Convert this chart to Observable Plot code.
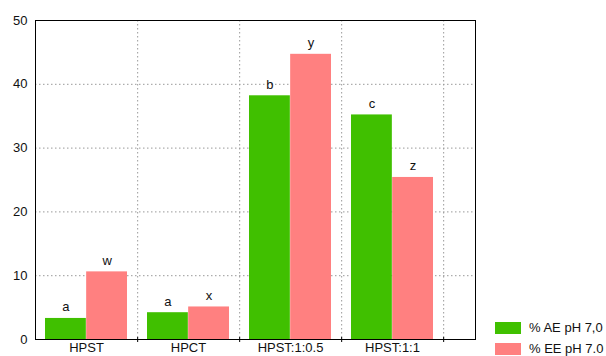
<!DOCTYPE html>
<html>
<head>
<meta charset="utf-8">
<script src="https://cdn.jsdelivr.net/npm/d3@7"></script>
<script src="https://cdn.jsdelivr.net/npm/@observablehq/plot@0.6"></script>
<style>
  body { margin: 0; background: #fff; font-family: "Liberation Sans", Arial, sans-serif; }
  #wrap { position: relative; width: 606px; height: 356px; overflow: hidden; }
  #legend { position: absolute; left: 495px; top: 317px; font-size: 13px; color: #111; white-space: nowrap; }
  #legend .item { display: flex; align-items: center; height: 21px; }
  #legend .sw { width: 26px; height: 12px; margin-right: 8px; }
</style>
</head>
<body>
<div id="wrap"></div>
<script>
// Sample groups on the x axis
const categories = ["HPST", "HPCT", "HPST:1:0.5", "HPST:1:1"];
// % AE at pH 7,0 and % EE at pH 7.0 per sample
const aeValues = [3.3, 4.2, 38.2, 35.2];
const eeValues = [10.6, 5.1, 44.7, 25.4];
// Significance letters above each bar
const aeLetters = ["a", "a", "b", "c"];
const eeLetters = ["w", "x", "y", "z"];
const seriesNames = ["% AE pH 7,0", "% EE pH 7.0"];
const colors = ["#40c000", "#ff8080"];
const yTicks = [0, 10, 20, 30, 40, 50];

const ae = categories.map((c, i) => ({cat: c, value: aeValues[i], letter: aeLetters[i]}));
const ee = categories.map((c, i) => ({cat: c, value: eeValues[i], letter: eeLetters[i]}));

const width = 606, height = 356;
const marginLeft = 35, marginRight = 131, marginTop = 20, marginBottom = 17;
const paddingOuter = 0.15;
const step = (width - marginLeft - marginRight) / (categories.length + 2 * paddingOuter);
const half = step / 2;
const gap = 10; // white space between a group and its band edge
const labelShift = (half - gap) / 2; // from band centre to each bar's centre

const dotted = {stroke: "#999", strokeOpacity: 1, strokeDasharray: "1.5,2.5"};

const chart = Plot.plot({
  width, height, marginLeft, marginRight, marginTop, marginBottom,
  style: {fontFamily: "Liberation Sans, Arial, sans-serif", fontSize: "13px", color: "#111"},
  x: {domain: categories, paddingInner: 0, paddingOuter, align: 0, label: null},
  y: {domain: [0, 50], label: null},
  marks: [
    Plot.gridY(yTicks.slice(1, -1), dotted),
    Plot.ruleX(categories, {x: d => d, dx: half, ...dotted}),
    Plot.barY(ae, {x: "cat", y: "value", fill: colors[0], insetLeft: gap, insetRight: half}),
    Plot.barY(ee, {x: "cat", y: "value", fill: colors[1], insetLeft: half, insetRight: gap}),
    Plot.frame({stroke: "#000"}),
    // small tick marks where the band boundaries meet the bottom axis
    Plot.ruleX(categories, {x: d => d, dx: half, y1: 0, y2: 0, insetTop: -2, insetBottom: -3, stroke: "#000"}),
    Plot.axisY({ticks: yTicks, tickSize: 0, tickPadding: 8, fontSize: 13, label: null}),
    Plot.axisX({tickSize: 0, tickPadding: 3, fontSize: 13, label: null, style: {letterSpacing: "0.5px"}}),
    Plot.text(ae, {x: "cat", y: "value", text: "letter", dx: -labelShift, lineAnchor: "bottom", dy: -7, fontSize: 13}),
    Plot.text(ee, {x: "cat", y: "value", text: "letter", dx: labelShift, lineAnchor: "bottom", dy: -7, fontSize: 13})
  ]
});

const wrap = document.getElementById("wrap");
wrap.appendChild(chart);

const legend = document.createElement("div");
legend.id = "legend";
seriesNames.forEach((name, i) => {
  const item = document.createElement("div");
  item.className = "item";
  item.innerHTML = `<span class="sw" style="background:${colors[i]}"></span><span>${name}</span>`;
  legend.appendChild(item);
});
wrap.appendChild(legend);
</script>
</body>
</html>
